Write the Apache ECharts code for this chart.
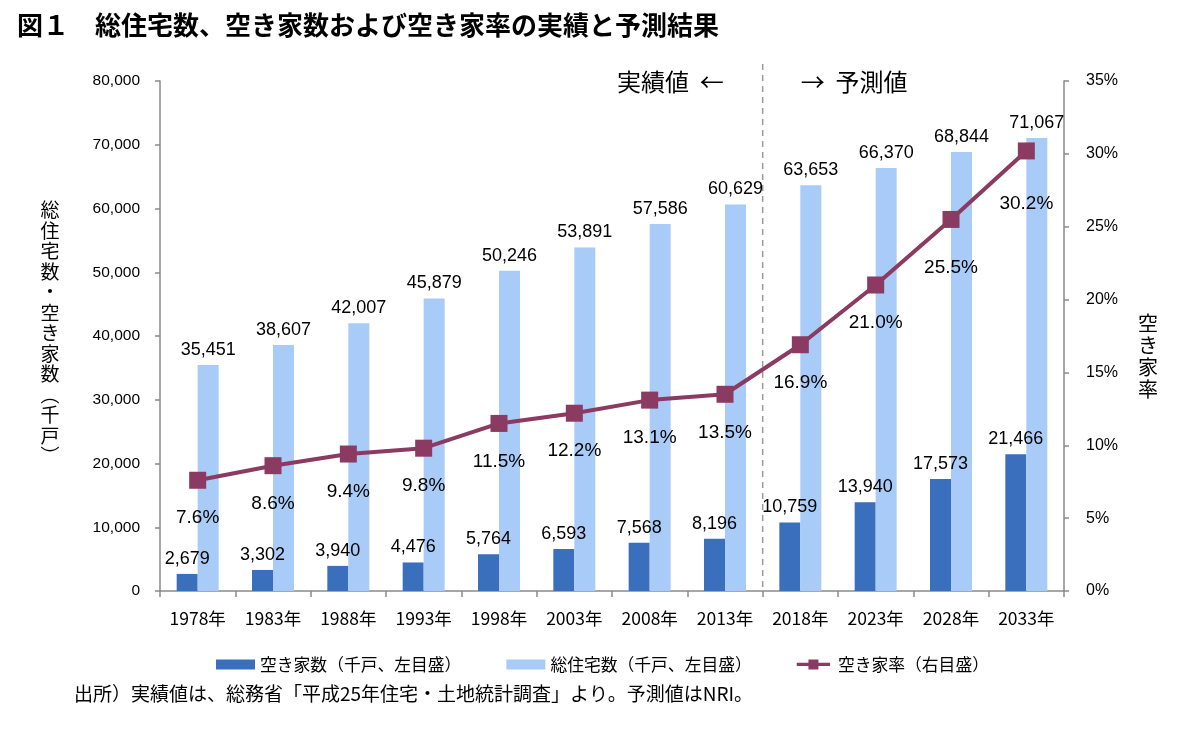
<!DOCTYPE html>
<html>
<head>
<meta charset="utf-8">
<script src="https://cdn.jsdelivr.net/npm/echarts@6/dist/echarts.min.js"></script>
<style>
html,body{margin:0;padding:0;background:#fff;}
#c{width:1180px;height:734px;}
</style>
</head>
<body>
<div id="c"></div>
<script>
const categories = ['1978年','1983年','1988年','1993年','1998年','2003年','2008年','2013年','2018年','2023年','2028年','2033年'];
const vacantHouses = [2679,3302,3940,4476,5764,6593,7568,8196,10759,13940,17573,21466];
const totalHouses = [35451,38607,42007,45879,50246,53891,57586,60629,63653,66370,68844,71067];
const vacancyRate = [7.6,8.6,9.4,9.8,11.5,12.2,13.1,13.5,16.9,21.0,25.5,30.2];
const leftTicks = {min:0, max:80000, interval:10000};
const rightTicks = {min:0, max:35, interval:5};

const JP = '"Noto Sans CJK JP", sans-serif';
const NUM = '"Liberation Sans", Arial, sans-serif';
const fmt = v => v.toLocaleString('en-US');

// extra label distance for a few rate labels (style only)
const rateLabelDistance = {10: 30, 11: 35};

const chart = echarts.init(document.getElementById('c'));
const axisLine = {show:true, lineStyle:{color:'#8a8a8a', width:1.5}};
const rateData = vacancyRate.map((v, i) => rateLabelDistance[i] ? {value:v, label:{distance:rateLabelDistance[i]}} : v);

const option = {
  animation:false,
  title:{
    text:'図１　総住宅数、空き家数および空き家率の実績と予測結果',
    left:12, top:7,
    textStyle:{fontFamily:JP, fontWeight:'bold', fontSize:26, color:'#000'}
  },
  grid:{left:160, right:116, top:81, bottom:143},
  legend:{
    left:211, top:651, itemGap:45, itemWidth:39, itemHeight:10,
    textStyle:{fontFamily:JP, fontSize:16.8, color:'#000'},
    data:[
      {name:'空き家数（千戸、左目盛）', icon:'rect'},
      {name:'総住宅数（千戸、左目盛）', icon:'rect'},
      {name:'空き家率（右目盛）', icon:'path://M0,4 L14,4 L14,0 L26,0 L26,4 L40,4 L40,8 L26,8 L26,12 L14,12 L14,8 L0,8 Z'}
    ]
  },
  xAxis:{
    type:'category', data:categories,
    axisLine:axisLine,
    axisTick:{show:true, length:6, lineStyle:{color:'#8a8a8a', width:1.5}},
    axisLabel:{fontFamily:JP, fontSize:17.5, color:'#000', margin:19}
  },
  yAxis:[
    {type:'value', min:leftTicks.min, max:leftTicks.max, interval:leftTicks.interval,
     splitLine:{show:false}, axisLine:axisLine,
     axisTick:{show:true, length:5, lineStyle:{color:'#8a8a8a', width:1.5}},
     axisLabel:{fontFamily:NUM, fontSize:15.5, color:'#000', margin:20, formatter:v=>fmt(v)}},
    {type:'value', min:rightTicks.min, max:rightTicks.max, interval:rightTicks.interval,
     splitLine:{show:false}, axisLine:axisLine,
     axisTick:{show:true, length:5, lineStyle:{color:'#8a8a8a', width:1.5}},
     axisLabel:{fontFamily:NUM, fontSize:16, color:'#000', margin:22, formatter:v=>v+'%'}}
  ],
  series:[
    {name:'空き家数（千戸、左目盛）', type:'bar', data:vacantHouses, barWidth:21, barGap:'0%',
     itemStyle:{color:'#3a6fbd'},
     label:{show:true, position:'top', distance:6, fontFamily:NUM, fontSize:18, color:'#000', formatter:p=>fmt(p.value)}},
    {name:'総住宅数（千戸、左目盛）', type:'bar', data:totalHouses, barWidth:21, barGap:'0%',
     itemStyle:{color:'#a8cbf7'},
     label:{show:true, position:'top', distance:6, fontFamily:NUM, fontSize:18, color:'#000', formatter:p=>fmt(p.value)}},
    {name:'空き家率（右目盛）', type:'line', yAxisIndex:1, data:rateData,
     symbol:'rect', symbolSize:17,
     lineStyle:{color:'#8b3a62', width:4},
     itemStyle:{color:'#8b3a62'},
     label:{show:true, position:'bottom', distance:20, fontFamily:NUM, fontSize:19, color:'#000', formatter:p=>Number(p.value).toFixed(1)+'%'},
     z:5}
  ]
};
chart.setOption(option);

// divider & annotations placed from axis scales
const x7 = chart.convertToPixel({xAxisIndex:0}, 7);
const x8 = chart.convertToPixel({xAxisIndex:0}, 8);
const xm = (x7 + x8) / 2;
const yb = chart.convertToPixel({yAxisIndex:0}, 0);
chart.setOption({graphic:[
  {type:'text', left:74, top:684, style:{text:'出所）実績値は、総務省「平成25年住宅・土地統計調査」より。予測値はNRI。', font:'19px '+JP, fill:'#000'}},
  {type:'line', shape:{x1:xm, y1:64, x2:xm, y2:yb}, style:{stroke:'#999', lineWidth:1.5, lineDash:[6,5]}},
  {type:'text', x:xm-39, y:82, style:{text:'実績値  ←', font:'24px '+JP, fill:'#000', align:'right', verticalAlign:'middle'}},
  {type:'text', x:xm+38, y:82, style:{text:'→  予測値', font:'24px '+JP, fill:'#000', align:'left', verticalAlign:'middle'}},
  {type:'text', x:50, y:333, style:{text:'総\n住\n宅\n数\n・\n空\nき\n家\n数\n︵\n千\n戸\n︶', font:'19px '+JP, lineHeight:20.5, fill:'#000', align:'center', verticalAlign:'middle'}},
  {type:'text', x:1148, y:356, style:{text:'空\nき\n家\n率', font:'20px '+JP, lineHeight:22, fill:'#000', align:'center', verticalAlign:'middle'}}
]}, {replaceMerge:['graphic']});
</script>
</body>
</html>
